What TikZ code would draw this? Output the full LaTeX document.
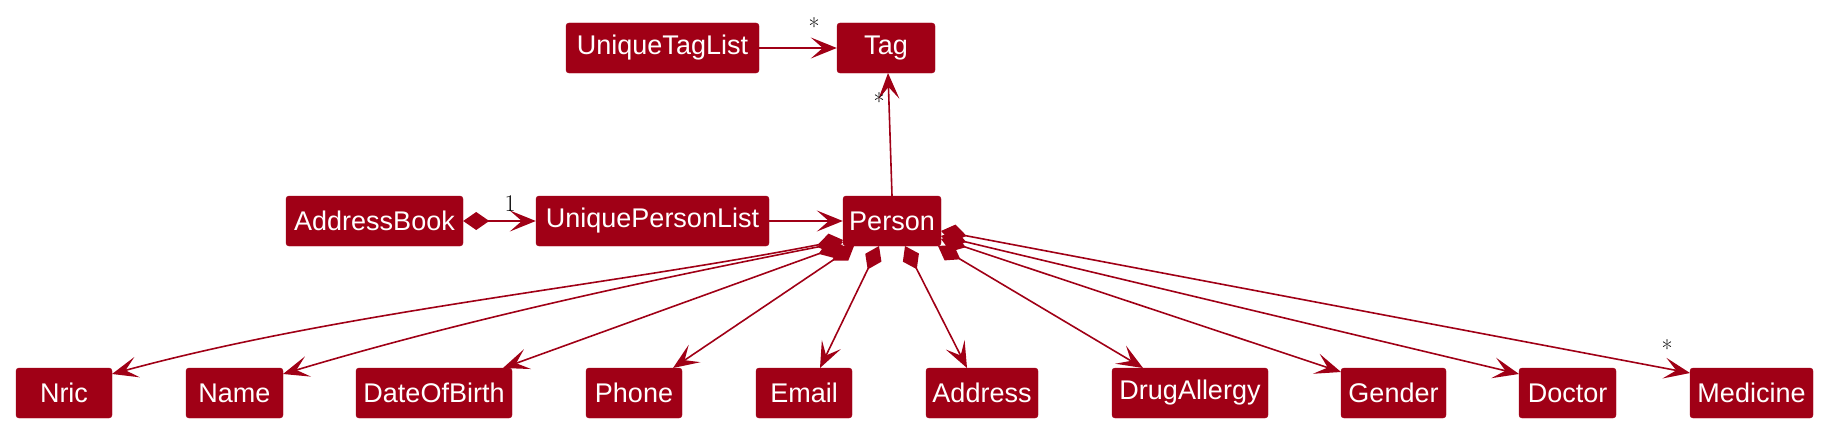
\documentclass[tikz,border=0pt]{standalone}
\usepackage{fontspec}
\newfontfamily\boxfont{Liberation Sans}
\usetikzlibrary{arrows.meta,calc}
\definecolor{pred}{RGB}{160,0,22}
\tikzset{
  cls/.style={fill=pred, draw=pred, rounded corners=3pt, text=white,
    font=\boxfont\fontsize{27}{31}\selectfont, minimum height=50pt, inner sep=0pt},
  link/.style={draw=pred, line width=1.6pt, -{Stealth[length=26pt,width=21pt,inset=12pt]}},
  comp/.style={draw=pred, line width=1.6pt,
    {Diamond[length=26pt,width=18pt]}-{Stealth[length=26pt,width=21pt,inset=12pt]}},
  mult/.style={font=\fontsize{24}{28}\selectfont, inner sep=0pt}
}
\begin{document}
\begin{tikzpicture}[x=1pt,y=-1pt]
\useasboundingbox (0,0) rectangle (1827,428);
% top row
\node[cls, minimum width=193pt] (utl) at (662.5,48) {UniqueTagList};
\node[cls, minimum width=98pt] (tag) at (886,48) {Tag};
% middle row
\node[cls, minimum width=177pt] (ab) at (374.5,221) {AddressBook};
\node[cls, minimum width=233pt] (upl) at (652.5,221) {UniquePersonList};
\node[cls, minimum width=98pt] (person) at (892,221) {Person};
% bottom row
\node[cls, minimum width=96pt] (nric) at (64,393) {Nric};
\node[cls, minimum width=97pt] (name) at (234.5,393) {Name};
\node[cls, minimum width=156pt] (dob) at (434,393) {DateOfBirth};
\node[cls, minimum width=96pt] (phone) at (634,393) {Phone};
\node[cls, minimum width=96pt] (email) at (804,393) {Email};
\node[cls, minimum width=112pt] (address) at (982,393) {Address};
\node[cls, minimum width=156pt] (drug) at (1190,393) {DrugAllergy};
\node[cls, minimum width=105pt] (gender) at (1393.5,393) {Gender};
\node[cls, minimum width=97pt] (doctor) at (1567.5,393) {Doctor};
\node[cls, minimum width=123pt] (medicine) at (1751.5,393) {Medicine};
% connectors
\draw[link] (utl.east) -- (tag.west);
\draw[link] (person.north) -- ($(tag.center)+(2,25)$);
\draw[comp] (ab.east) -- (upl.west);
\draw[link] (upl.east) -- (person.west);
\draw[comp] ($(person.center)+(-49,19)$) .. controls (600,287) and (340,312) .. ($(nric.center)+(48,-19)$);
\draw[comp] ($(person.center)+(-49,21)$) .. controls (660,278) and (470,318) .. ($(name.center)+(48.5,-19)$);
\draw[comp] ($(person.center)+(-49,24)$) -- ($(dob.center)+(69,-25)$);
\draw[comp] ($(person.center)+(-38,25)$) -- ($(phone.center)+(39,-25)$);
\draw[comp] ($(person.center)+(-13,25)$) -- ($(email.center)+(16,-25)$);
\draw[comp] ($(person.center)+(13,25)$) -- ($(address.center)+(-15,-25)$);
\draw[comp] ($(person.center)+(46,25)$) -- ($(drug.center)+(-47,-25)$);
\draw[comp] ($(person.center)+(49,18)$) -- ($(gender.center)+(-52.5,-21)$);
\draw[comp] ($(person.center)+(49,15)$) -- ($(doctor.center)+(-48.5,-19)$);
\draw[comp] ($(person.center)+(49,10)$) -- ($(medicine.center)+(-61.5,-20)$);
% multiplicities
\node[mult] (m1) at (814,27) {*};
\node[mult] (m2) at (510,204) {1};
\node[mult] (m3) at (879,102) {*};
\node[mult] (m4) at (1667,349) {*};
\end{tikzpicture}
\end{document}
